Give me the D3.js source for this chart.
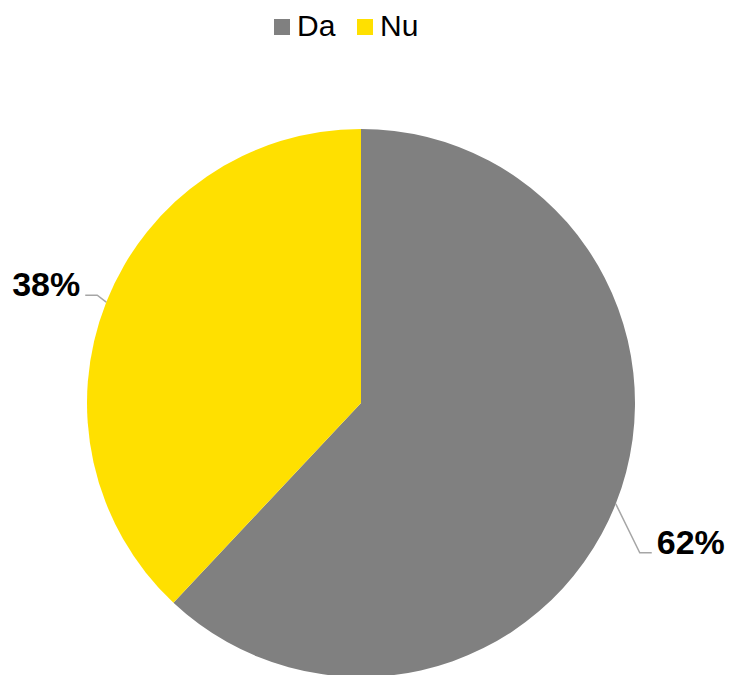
<!DOCTYPE html>
<html>
<head>
<meta charset="utf-8">
<script src="https://cdn.jsdelivr.net/npm/d3@7"></script>
<style>
  html, body { margin: 0; padding: 0; background: #fff; }
  svg { display: block; font-family: "Liberation Sans", Arial, sans-serif; }
</style>
</head>
<body>
<svg id="chart" width="731" height="675"></svg>
<script>
// Survey answers
const categories = ["Da", "Nu"];
const values = [62, 38];
const colors = ["#808080", "#FFE000"];

const width = 731, height = 675;
const cx = 361, cy = 403, radius = 274;

const svg = d3.select("#chart");

// Legend
const legendX = [274, 357];
const legend = svg.append("g");
categories.forEach((c, i) => {
  legend.append("rect")
    .attr("x", legendX[i]).attr("y", 19)
    .attr("width", 16).attr("height", 16)
    .attr("fill", colors[i]);
  legend.append("text")
    .attr("x", legendX[i] + 23).attr("y", 36)
    .attr("font-size", 30)
    .attr("fill", "#000")
    .text(c);
});

// Pie, starting at 12 o'clock and running clockwise
const pie = d3.pie().sort(null).value(d => d.value);
const arcs = pie(categories.map((c, i) => ({ name: c, value: values[i], color: colors[i] })));
const arc = d3.arc().innerRadius(0).outerRadius(radius);

const g = svg.append("g").attr("transform", `translate(${cx},${cy})`);
g.selectAll("path.slice")
  .data(arcs)
  .join("path")
  .attr("class", "slice")
  .attr("d", arc)
  .attr("fill", d => d.data.color);

// Leader lines and percentage labels
const total = d3.sum(values);
const fmt = v => Math.round(v / total * 100) + "%";
// elbow offset from slice edge, horizontal run, and label gap per slice
const leader = [
  { elbow: [24, 49], run: 12, gap: 5, anchor: "start" },
  { elbow: [-9, -7], run: -12, gap: -5, anchor: "end" }
];

arcs.forEach((d, i) => {
  const mid = (d.startAngle + d.endAngle) / 2;
  const ex = radius * Math.sin(mid), ey = -radius * Math.cos(mid);
  const L = leader[i];
  const bx = ex + L.elbow[0], by = ey + L.elbow[1];
  const tx = bx + L.run;
  g.append("polyline")
    .attr("points", [[ex, ey], [bx, by], [tx, by]].map(p => p.join(",")).join(" "))
    .attr("fill", "none")
    .attr("stroke", "#a6a6a6")
    .attr("stroke-width", 1.5);
  g.append("text")
    .attr("x", tx + L.gap)
    .attr("y", by + 1)
    .attr("text-anchor", L.anchor)
    .attr("font-size", 34)
    .attr("font-weight", "bold")
    .attr("fill", "#000")
    .text(fmt(d.data.value));
});
</script>
</body>
</html>
